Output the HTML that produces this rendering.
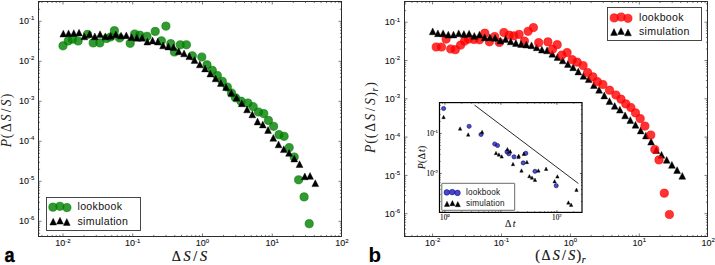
<!DOCTYPE html>
<html><head><meta charset="utf-8"><style>
html,body{margin:0;padding:0;background:#fff;}
svg{display:block;}
</style></head><body>
<svg width="715" height="265" viewBox="0 0 715 265">
<rect width="715" height="265" fill="#fff"/>
<rect x="38.5" y="1.5" width="303" height="235" fill="white" stroke="none"/>
<path d="M42 236.5V234.9M42 1.5V3.1M47.53 236.5V234.9M47.53 1.5V3.1M52.2 236.5V234.9M52.2 1.5V3.1M56.24 236.5V234.9M56.24 1.5V3.1M59.81 236.5V234.9M59.81 1.5V3.1M63 236.5V233.5M63 1.5V4.5M84 236.5V234.9M84 1.5V3.1M96.28 236.5V234.9M96.28 1.5V3.1M104.99 236.5V234.9M104.99 1.5V3.1M111.75 236.5V234.9M111.75 1.5V3.1M117.28 236.5V234.9M117.28 1.5V3.1M121.95 236.5V234.9M121.95 1.5V3.1M125.99 236.5V234.9M125.99 1.5V3.1M129.56 236.5V234.9M129.56 1.5V3.1M132.75 236.5V233.5M132.75 1.5V4.5M153.75 236.5V234.9M153.75 1.5V3.1M166.03 236.5V234.9M166.03 1.5V3.1M174.74 236.5V234.9M174.74 1.5V3.1M181.5 236.5V234.9M181.5 1.5V3.1M187.03 236.5V234.9M187.03 1.5V3.1M191.7 236.5V234.9M191.7 1.5V3.1M195.74 236.5V234.9M195.74 1.5V3.1M199.31 236.5V234.9M199.31 1.5V3.1M202.5 236.5V233.5M202.5 1.5V4.5M223.5 236.5V234.9M223.5 1.5V3.1M235.78 236.5V234.9M235.78 1.5V3.1M244.49 236.5V234.9M244.49 1.5V3.1M251.25 236.5V234.9M251.25 1.5V3.1M256.78 236.5V234.9M256.78 1.5V3.1M261.45 236.5V234.9M261.45 1.5V3.1M265.49 236.5V234.9M265.49 1.5V3.1M269.06 236.5V234.9M269.06 1.5V3.1M272.25 236.5V233.5M272.25 1.5V4.5M293.25 236.5V234.9M293.25 1.5V3.1M305.53 236.5V234.9M305.53 1.5V3.1M314.24 236.5V234.9M314.24 1.5V3.1M321 236.5V234.9M321 1.5V3.1M326.53 236.5V234.9M326.53 1.5V3.1M331.2 236.5V234.9M331.2 1.5V3.1M335.24 236.5V234.9M335.24 1.5V3.1M338.81 236.5V234.9M338.81 1.5V3.1M38.5 233.34H40.1M341.5 233.34H339.9M38.5 230.17H40.1M341.5 230.17H339.9M38.5 227.5H40.1M341.5 227.5H339.9M38.5 225.18H40.1M341.5 225.18H339.9M38.5 223.13H40.1M341.5 223.13H339.9M38.5 221.3H41.5M341.5 221.3H338.5M38.5 209.26H40.1M341.5 209.26H339.9M38.5 202.22H40.1M341.5 202.22H339.9M38.5 197.22H40.1M341.5 197.22H339.9M38.5 193.34H40.1M341.5 193.34H339.9M38.5 190.17H40.1M341.5 190.17H339.9M38.5 187.5H40.1M341.5 187.5H339.9M38.5 185.18H40.1M341.5 185.18H339.9M38.5 183.13H40.1M341.5 183.13H339.9M38.5 181.3H41.5M341.5 181.3H338.5M38.5 169.26H40.1M341.5 169.26H339.9M38.5 162.22H40.1M341.5 162.22H339.9M38.5 157.22H40.1M341.5 157.22H339.9M38.5 153.34H40.1M341.5 153.34H339.9M38.5 150.17H40.1M341.5 150.17H339.9M38.5 147.5H40.1M341.5 147.5H339.9M38.5 145.18H40.1M341.5 145.18H339.9M38.5 143.13H40.1M341.5 143.13H339.9M38.5 141.3H41.5M341.5 141.3H338.5M38.5 129.26H40.1M341.5 129.26H339.9M38.5 122.22H40.1M341.5 122.22H339.9M38.5 117.22H40.1M341.5 117.22H339.9M38.5 113.34H40.1M341.5 113.34H339.9M38.5 110.17H40.1M341.5 110.17H339.9M38.5 107.5H40.1M341.5 107.5H339.9M38.5 105.18H40.1M341.5 105.18H339.9M38.5 103.13H40.1M341.5 103.13H339.9M38.5 101.3H41.5M341.5 101.3H338.5M38.5 89.26H40.1M341.5 89.26H339.9M38.5 82.22H40.1M341.5 82.22H339.9M38.5 77.22H40.1M341.5 77.22H339.9M38.5 73.34H40.1M341.5 73.34H339.9M38.5 70.17H40.1M341.5 70.17H339.9M38.5 67.5H40.1M341.5 67.5H339.9M38.5 65.18H40.1M341.5 65.18H339.9M38.5 63.13H40.1M341.5 63.13H339.9M38.5 61.3H41.5M341.5 61.3H338.5M38.5 49.26H40.1M341.5 49.26H339.9M38.5 42.22H40.1M341.5 42.22H339.9M38.5 37.22H40.1M341.5 37.22H339.9M38.5 33.34H40.1M341.5 33.34H339.9M38.5 30.17H40.1M341.5 30.17H339.9M38.5 27.5H40.1M341.5 27.5H339.9M38.5 25.18H40.1M341.5 25.18H339.9M38.5 23.13H40.1M341.5 23.13H339.9M38.5 21.3H41.5M341.5 21.3H338.5M38.5 9.26H40.1M341.5 9.26H339.9M38.5 2.22H40.1M341.5 2.22H339.9" stroke="#222" stroke-width="0.6" fill="none"/>
<circle cx="63" cy="45.8" r="4.1" fill="#008000" fill-opacity="0.8" stroke="#008000" stroke-opacity="0.8" stroke-width="0.8"/>
<circle cx="68.2" cy="41" r="4.1" fill="#008000" fill-opacity="0.8" stroke="#008000" stroke-opacity="0.8" stroke-width="0.8"/>
<circle cx="72.5" cy="39.2" r="4.1" fill="#008000" fill-opacity="0.8" stroke="#008000" stroke-opacity="0.8" stroke-width="0.8"/>
<circle cx="78.1" cy="41" r="4.1" fill="#008000" fill-opacity="0.8" stroke="#008000" stroke-opacity="0.8" stroke-width="0.8"/>
<circle cx="87.5" cy="34.4" r="4.1" fill="#008000" fill-opacity="0.8" stroke="#008000" stroke-opacity="0.8" stroke-width="0.8"/>
<circle cx="93.2" cy="42.9" r="4.1" fill="#008000" fill-opacity="0.8" stroke="#008000" stroke-opacity="0.8" stroke-width="0.8"/>
<circle cx="99.8" cy="42.9" r="4.1" fill="#008000" fill-opacity="0.8" stroke="#008000" stroke-opacity="0.8" stroke-width="0.8"/>
<circle cx="106.5" cy="38.5" r="4.1" fill="#008000" fill-opacity="0.8" stroke="#008000" stroke-opacity="0.8" stroke-width="0.8"/>
<circle cx="110.5" cy="37" r="4.1" fill="#008000" fill-opacity="0.8" stroke="#008000" stroke-opacity="0.8" stroke-width="0.8"/>
<circle cx="114.4" cy="30.7" r="4.1" fill="#008000" fill-opacity="0.8" stroke="#008000" stroke-opacity="0.8" stroke-width="0.8"/>
<circle cx="119.6" cy="38" r="4.1" fill="#008000" fill-opacity="0.8" stroke="#008000" stroke-opacity="0.8" stroke-width="0.8"/>
<circle cx="130.2" cy="43.3" r="4.1" fill="#008000" fill-opacity="0.8" stroke="#008000" stroke-opacity="0.8" stroke-width="0.8"/>
<circle cx="134.7" cy="34" r="4.1" fill="#008000" fill-opacity="0.8" stroke="#008000" stroke-opacity="0.8" stroke-width="0.8"/>
<circle cx="139.8" cy="35.2" r="4.1" fill="#008000" fill-opacity="0.8" stroke="#008000" stroke-opacity="0.8" stroke-width="0.8"/>
<circle cx="147" cy="36.3" r="4.1" fill="#008000" fill-opacity="0.8" stroke="#008000" stroke-opacity="0.8" stroke-width="0.8"/>
<circle cx="155.2" cy="31.4" r="4.1" fill="#008000" fill-opacity="0.8" stroke="#008000" stroke-opacity="0.8" stroke-width="0.8"/>
<circle cx="161.4" cy="40.8" r="4.1" fill="#008000" fill-opacity="0.8" stroke="#008000" stroke-opacity="0.8" stroke-width="0.8"/>
<circle cx="165.9" cy="26.1" r="4.1" fill="#008000" fill-opacity="0.8" stroke="#008000" stroke-opacity="0.8" stroke-width="0.8"/>
<circle cx="170.8" cy="43.7" r="4.1" fill="#008000" fill-opacity="0.8" stroke="#008000" stroke-opacity="0.8" stroke-width="0.8"/>
<circle cx="174.4" cy="52" r="4.1" fill="#008000" fill-opacity="0.8" stroke="#008000" stroke-opacity="0.8" stroke-width="0.8"/>
<circle cx="180.3" cy="44.8" r="4.1" fill="#008000" fill-opacity="0.8" stroke="#008000" stroke-opacity="0.8" stroke-width="0.8"/>
<circle cx="186.4" cy="44.8" r="4.1" fill="#008000" fill-opacity="0.8" stroke="#008000" stroke-opacity="0.8" stroke-width="0.8"/>
<circle cx="192.3" cy="55.8" r="4.1" fill="#008000" fill-opacity="0.8" stroke="#008000" stroke-opacity="0.8" stroke-width="0.8"/>
<circle cx="201.8" cy="57" r="4.1" fill="#008000" fill-opacity="0.8" stroke="#008000" stroke-opacity="0.8" stroke-width="0.8"/>
<circle cx="207" cy="64.8" r="4.1" fill="#008000" fill-opacity="0.8" stroke="#008000" stroke-opacity="0.8" stroke-width="0.8"/>
<circle cx="212.3" cy="70.3" r="4.1" fill="#008000" fill-opacity="0.8" stroke="#008000" stroke-opacity="0.8" stroke-width="0.8"/>
<circle cx="217.3" cy="75.5" r="4.1" fill="#008000" fill-opacity="0.8" stroke="#008000" stroke-opacity="0.8" stroke-width="0.8"/>
<circle cx="222.3" cy="81.3" r="4.1" fill="#008000" fill-opacity="0.8" stroke="#008000" stroke-opacity="0.8" stroke-width="0.8"/>
<circle cx="227.3" cy="87" r="4.1" fill="#008000" fill-opacity="0.8" stroke="#008000" stroke-opacity="0.8" stroke-width="0.8"/>
<circle cx="231.5" cy="93" r="4.1" fill="#008000" fill-opacity="0.8" stroke="#008000" stroke-opacity="0.8" stroke-width="0.8"/>
<circle cx="235.5" cy="97.8" r="4.1" fill="#008000" fill-opacity="0.8" stroke="#008000" stroke-opacity="0.8" stroke-width="0.8"/>
<circle cx="241" cy="101.2" r="4.1" fill="#008000" fill-opacity="0.8" stroke="#008000" stroke-opacity="0.8" stroke-width="0.8"/>
<circle cx="247.9" cy="103" r="4.1" fill="#008000" fill-opacity="0.8" stroke="#008000" stroke-opacity="0.8" stroke-width="0.8"/>
<circle cx="253.2" cy="106.7" r="4.1" fill="#008000" fill-opacity="0.8" stroke="#008000" stroke-opacity="0.8" stroke-width="0.8"/>
<circle cx="258.5" cy="112" r="4.1" fill="#008000" fill-opacity="0.8" stroke="#008000" stroke-opacity="0.8" stroke-width="0.8"/>
<circle cx="263.8" cy="113.6" r="4.1" fill="#008000" fill-opacity="0.8" stroke="#008000" stroke-opacity="0.8" stroke-width="0.8"/>
<circle cx="268.4" cy="120.4" r="4.1" fill="#008000" fill-opacity="0.8" stroke="#008000" stroke-opacity="0.8" stroke-width="0.8"/>
<circle cx="273.6" cy="126.3" r="4.1" fill="#008000" fill-opacity="0.8" stroke="#008000" stroke-opacity="0.8" stroke-width="0.8"/>
<circle cx="279" cy="134.7" r="4.1" fill="#008000" fill-opacity="0.8" stroke="#008000" stroke-opacity="0.8" stroke-width="0.8"/>
<circle cx="284.1" cy="136.3" r="4.1" fill="#008000" fill-opacity="0.8" stroke="#008000" stroke-opacity="0.8" stroke-width="0.8"/>
<circle cx="289.2" cy="147.6" r="4.1" fill="#008000" fill-opacity="0.8" stroke="#008000" stroke-opacity="0.8" stroke-width="0.8"/>
<circle cx="294.2" cy="157" r="4.1" fill="#008000" fill-opacity="0.8" stroke="#008000" stroke-opacity="0.8" stroke-width="0.8"/>
<circle cx="298.6" cy="179.8" r="4.1" fill="#008000" fill-opacity="0.8" stroke="#008000" stroke-opacity="0.8" stroke-width="0.8"/>
<circle cx="304.1" cy="196.9" r="4.1" fill="#008000" fill-opacity="0.8" stroke="#008000" stroke-opacity="0.8" stroke-width="0.8"/>
<circle cx="309.2" cy="223.7" r="4.1" fill="#008000" fill-opacity="0.8" stroke="#008000" stroke-opacity="0.8" stroke-width="0.8"/>
<path d="M63.3 30.2L66.7 37L59.9 37Z" fill="#000" stroke="#000" stroke-width="0.4"/>
<path d="M68.55 29.9L71.95 36.7L65.15 36.7Z" fill="#000" stroke="#000" stroke-width="0.4"/>
<path d="M73.8 29.7L77.2 36.5L70.4 36.5Z" fill="#000" stroke="#000" stroke-width="0.4"/>
<path d="M79.05 29.2L82.45 36L75.65 36Z" fill="#000" stroke="#000" stroke-width="0.4"/>
<path d="M84.3 33L87.7 39.8L80.9 39.8Z" fill="#000" stroke="#000" stroke-width="0.4"/>
<path d="M89.55 30.8L92.95 37.6L86.15 37.6Z" fill="#000" stroke="#000" stroke-width="0.4"/>
<path d="M94.8 33L98.2 39.8L91.4 39.8Z" fill="#000" stroke="#000" stroke-width="0.4"/>
<path d="M100.05 30.8L103.45 37.6L96.65 37.6Z" fill="#000" stroke="#000" stroke-width="0.4"/>
<path d="M105.3 32.9L108.7 39.7L101.9 39.7Z" fill="#000" stroke="#000" stroke-width="0.4"/>
<path d="M110.55 32.5L113.95 39.3L107.15 39.3Z" fill="#000" stroke="#000" stroke-width="0.4"/>
<path d="M115.8 31L119.2 37.8L112.4 37.8Z" fill="#000" stroke="#000" stroke-width="0.4"/>
<path d="M121.05 32.2L124.45 39L117.65 39Z" fill="#000" stroke="#000" stroke-width="0.4"/>
<path d="M126.3 31.9L129.7 38.7L122.9 38.7Z" fill="#000" stroke="#000" stroke-width="0.4"/>
<path d="M131.55 33.7L134.95 40.5L128.15 40.5Z" fill="#000" stroke="#000" stroke-width="0.4"/>
<path d="M136.8 34.4L140.2 41.2L133.4 41.2Z" fill="#000" stroke="#000" stroke-width="0.4"/>
<path d="M142.05 34.4L145.45 41.2L138.65 41.2Z" fill="#000" stroke="#000" stroke-width="0.4"/>
<path d="M147.3 38.2L150.7 45L143.9 45Z" fill="#000" stroke="#000" stroke-width="0.4"/>
<path d="M152.55 37.1L155.95 43.9L149.15 43.9Z" fill="#000" stroke="#000" stroke-width="0.4"/>
<path d="M157.8 38.2L161.2 45L154.4 45Z" fill="#000" stroke="#000" stroke-width="0.4"/>
<path d="M163.05 42L166.45 48.8L159.65 48.8Z" fill="#000" stroke="#000" stroke-width="0.4"/>
<path d="M168.3 43.1L171.7 49.9L164.9 49.9Z" fill="#000" stroke="#000" stroke-width="0.4"/>
<path d="M173.55 43.7L176.95 50.5L170.15 50.5Z" fill="#000" stroke="#000" stroke-width="0.4"/>
<path d="M178.8 48L182.2 54.8L175.4 54.8Z" fill="#000" stroke="#000" stroke-width="0.4"/>
<path d="M184.05 50L187.45 56.8L180.65 56.8Z" fill="#000" stroke="#000" stroke-width="0.4"/>
<path d="M189.3 52.8L192.7 59.6L185.9 59.6Z" fill="#000" stroke="#000" stroke-width="0.4"/>
<path d="M194.55 56.6L197.95 63.4L191.15 63.4Z" fill="#000" stroke="#000" stroke-width="0.4"/>
<path d="M199.8 61L203.2 67.8L196.4 67.8Z" fill="#000" stroke="#000" stroke-width="0.4"/>
<path d="M205.05 65.1L208.45 71.9L201.65 71.9Z" fill="#000" stroke="#000" stroke-width="0.4"/>
<path d="M210.3 70.2L213.7 77L206.9 77Z" fill="#000" stroke="#000" stroke-width="0.4"/>
<path d="M215.55 75L218.95 81.8L212.15 81.8Z" fill="#000" stroke="#000" stroke-width="0.4"/>
<path d="M220.8 79.6L224.2 86.4L217.4 86.4Z" fill="#000" stroke="#000" stroke-width="0.4"/>
<path d="M226.05 83.8L229.45 90.6L222.65 90.6Z" fill="#000" stroke="#000" stroke-width="0.4"/>
<path d="M231.3 89.4L234.7 96.2L227.9 96.2Z" fill="#000" stroke="#000" stroke-width="0.4"/>
<path d="M236.55 94.3L239.95 101.1L233.15 101.1Z" fill="#000" stroke="#000" stroke-width="0.4"/>
<path d="M241.8 99.9L245.2 106.7L238.4 106.7Z" fill="#000" stroke="#000" stroke-width="0.4"/>
<path d="M247.05 106L250.45 112.8L243.65 112.8Z" fill="#000" stroke="#000" stroke-width="0.4"/>
<path d="M252.3 111L255.7 117.8L248.9 117.8Z" fill="#000" stroke="#000" stroke-width="0.4"/>
<path d="M257.55 118.1L260.95 124.9L254.15 124.9Z" fill="#000" stroke="#000" stroke-width="0.4"/>
<path d="M262.8 121.1L266.2 127.9L259.4 127.9Z" fill="#000" stroke="#000" stroke-width="0.4"/>
<path d="M268.05 126.6L271.45 133.4L264.65 133.4Z" fill="#000" stroke="#000" stroke-width="0.4"/>
<path d="M273.3 134.5L276.7 141.3L269.9 141.3Z" fill="#000" stroke="#000" stroke-width="0.4"/>
<path d="M278.55 141L281.95 147.8L275.15 147.8Z" fill="#000" stroke="#000" stroke-width="0.4"/>
<path d="M283.8 145.8L287.2 152.6L280.4 152.6Z" fill="#000" stroke="#000" stroke-width="0.4"/>
<path d="M289.05 149.5L292.45 156.3L285.65 156.3Z" fill="#000" stroke="#000" stroke-width="0.4"/>
<path d="M294.3 155.2L297.7 162L290.9 162Z" fill="#000" stroke="#000" stroke-width="0.4"/>
<path d="M299.55 160.7L302.95 167.5L296.15 167.5Z" fill="#000" stroke="#000" stroke-width="0.4"/>
<path d="M304.8 173L308.2 179.8L301.4 179.8Z" fill="#000" stroke="#000" stroke-width="0.4"/>
<path d="M310.05 172.5L313.45 179.3L306.65 179.3Z" fill="#000" stroke="#000" stroke-width="0.4"/>
<path d="M315.3 179.8L318.7 186.6L311.9 186.6Z" fill="#000" stroke="#000" stroke-width="0.4"/>
<rect x="46.5" y="197.5" width="94" height="33" fill="white" stroke="#333" stroke-width="0.9"/>
<circle cx="52.9" cy="207.2" r="4.1" fill="#008000" fill-opacity="0.8" stroke="#008000" stroke-opacity="0.8" stroke-width="0.8"/>
<circle cx="59.9" cy="206.3" r="4.1" fill="#008000" fill-opacity="0.8" stroke="#008000" stroke-opacity="0.8" stroke-width="0.8"/>
<circle cx="66.9" cy="207.6" r="4.1" fill="#008000" fill-opacity="0.8" stroke="#008000" stroke-opacity="0.8" stroke-width="0.8"/>
<path d="M53.2 218.2L56.6 225L49.8 225Z" fill="#000" stroke="#000" stroke-width="0.4"/>
<path d="M60 217.3L63.4 224.1L56.6 224.1Z" fill="#000" stroke="#000" stroke-width="0.4"/>
<path d="M66.8 218.6L70.2 225.4L63.4 225.4Z" fill="#000" stroke="#000" stroke-width="0.4"/>
<text x="77.5" y="210.2" font-family='"Liberation Sans", sans-serif' font-size="10.6" letter-spacing="0.3" fill="#111">lookbook</text>
<text x="77.5" y="224.6" font-family='"Liberation Sans", sans-serif' font-size="10.6" letter-spacing="0.3" fill="#111">simulation</text>
<rect x="38.5" y="1.5" width="303" height="235" fill="none" stroke="#222" stroke-width="0.95"/>
<text x="63" y="246.2" font-family='"Liberation Sans", sans-serif' font-size="9" fill="#111" stroke="#111" stroke-width="0.1" text-anchor="middle">10<tspan dy="-3.6" font-size="6">-2</tspan></text>
<text x="132.75" y="246.2" font-family='"Liberation Sans", sans-serif' font-size="9" fill="#111" stroke="#111" stroke-width="0.1" text-anchor="middle">10<tspan dy="-3.6" font-size="6">-1</tspan></text>
<text x="202.5" y="246.2" font-family='"Liberation Sans", sans-serif' font-size="9" fill="#111" stroke="#111" stroke-width="0.1" text-anchor="middle">10<tspan dy="-3.6" font-size="6">0</tspan></text>
<text x="272.25" y="246.2" font-family='"Liberation Sans", sans-serif' font-size="9" fill="#111" stroke="#111" stroke-width="0.1" text-anchor="middle">10<tspan dy="-3.6" font-size="6">1</tspan></text>
<text x="342" y="246.2" font-family='"Liberation Sans", sans-serif' font-size="9" fill="#111" stroke="#111" stroke-width="0.1" text-anchor="middle">10<tspan dy="-3.6" font-size="6">2</tspan></text>
<text x="34.3" y="223.9" font-family='"Liberation Sans", sans-serif' font-size="9" fill="#111" stroke="#111" stroke-width="0.1" text-anchor="end">10<tspan dy="-3.6" font-size="6">-6</tspan></text>
<text x="34.3" y="183.9" font-family='"Liberation Sans", sans-serif' font-size="9" fill="#111" stroke="#111" stroke-width="0.1" text-anchor="end">10<tspan dy="-3.6" font-size="6">-5</tspan></text>
<text x="34.3" y="143.9" font-family='"Liberation Sans", sans-serif' font-size="9" fill="#111" stroke="#111" stroke-width="0.1" text-anchor="end">10<tspan dy="-3.6" font-size="6">-4</tspan></text>
<text x="34.3" y="103.9" font-family='"Liberation Sans", sans-serif' font-size="9" fill="#111" stroke="#111" stroke-width="0.1" text-anchor="end">10<tspan dy="-3.6" font-size="6">-3</tspan></text>
<text x="34.3" y="63.9" font-family='"Liberation Sans", sans-serif' font-size="9" fill="#111" stroke="#111" stroke-width="0.1" text-anchor="end">10<tspan dy="-3.6" font-size="6">-2</tspan></text>
<text x="34.3" y="23.9" font-family='"Liberation Sans", sans-serif' font-size="9" fill="#111" stroke="#111" stroke-width="0.1" text-anchor="end">10<tspan dy="-3.6" font-size="6">-1</tspan></text>
<rect x="404.5" y="1.5" width="303" height="235" fill="white" stroke="none"/>
<path d="M405.18 236.5V234.9M405.18 1.5V3.1M411.86 236.5V234.9M411.86 1.5V3.1M417.31 236.5V234.9M417.31 1.5V3.1M421.93 236.5V234.9M421.93 1.5V3.1M425.92 236.5V234.9M425.92 1.5V3.1M429.45 236.5V234.9M429.45 1.5V3.1M432.6 236.5V233.5M432.6 1.5V4.5M453.34 236.5V234.9M453.34 1.5V3.1M465.47 236.5V234.9M465.47 1.5V3.1M474.08 236.5V234.9M474.08 1.5V3.1M480.76 236.5V234.9M480.76 1.5V3.1M486.21 236.5V234.9M486.21 1.5V3.1M490.83 236.5V234.9M490.83 1.5V3.1M494.82 236.5V234.9M494.82 1.5V3.1M498.35 236.5V234.9M498.35 1.5V3.1M501.5 236.5V233.5M501.5 1.5V4.5M522.24 236.5V234.9M522.24 1.5V3.1M534.37 236.5V234.9M534.37 1.5V3.1M542.98 236.5V234.9M542.98 1.5V3.1M549.66 236.5V234.9M549.66 1.5V3.1M555.11 236.5V234.9M555.11 1.5V3.1M559.73 236.5V234.9M559.73 1.5V3.1M563.72 236.5V234.9M563.72 1.5V3.1M567.25 236.5V234.9M567.25 1.5V3.1M570.4 236.5V233.5M570.4 1.5V4.5M591.14 236.5V234.9M591.14 1.5V3.1M603.27 236.5V234.9M603.27 1.5V3.1M611.88 236.5V234.9M611.88 1.5V3.1M618.56 236.5V234.9M618.56 1.5V3.1M624.01 236.5V234.9M624.01 1.5V3.1M628.63 236.5V234.9M628.63 1.5V3.1M632.62 236.5V234.9M632.62 1.5V3.1M636.15 236.5V234.9M636.15 1.5V3.1M639.3 236.5V233.5M639.3 1.5V4.5M660.04 236.5V234.9M660.04 1.5V3.1M672.17 236.5V234.9M672.17 1.5V3.1M680.78 236.5V234.9M680.78 1.5V3.1M687.46 236.5V234.9M687.46 1.5V3.1M692.91 236.5V234.9M692.91 1.5V3.1M697.53 236.5V234.9M697.53 1.5V3.1M701.52 236.5V234.9M701.52 1.5V3.1M705.05 236.5V234.9M705.05 1.5V3.1M404.5 233.73H406.1M707.5 233.73H705.9M404.5 228.94H406.1M707.5 228.94H705.9M404.5 225.23H406.1M707.5 225.23H705.9M404.5 222.2H406.1M707.5 222.2H705.9M404.5 219.63H406.1M707.5 219.63H705.9M404.5 217.41H406.1M707.5 217.41H705.9M404.5 215.45H406.1M707.5 215.45H705.9M404.5 213.7H407.5M707.5 213.7H704.5M404.5 202.17H406.1M707.5 202.17H705.9M404.5 195.43H406.1M707.5 195.43H705.9M404.5 190.64H406.1M707.5 190.64H705.9M404.5 186.93H406.1M707.5 186.93H705.9M404.5 183.9H406.1M707.5 183.9H705.9M404.5 181.33H406.1M707.5 181.33H705.9M404.5 179.11H406.1M707.5 179.11H705.9M404.5 177.15H406.1M707.5 177.15H705.9M404.5 175.4H407.5M707.5 175.4H704.5M404.5 163.87H406.1M707.5 163.87H705.9M404.5 157.13H406.1M707.5 157.13H705.9M404.5 152.34H406.1M707.5 152.34H705.9M404.5 148.63H406.1M707.5 148.63H705.9M404.5 145.6H406.1M707.5 145.6H705.9M404.5 143.03H406.1M707.5 143.03H705.9M404.5 140.81H406.1M707.5 140.81H705.9M404.5 138.85H406.1M707.5 138.85H705.9M404.5 137.1H407.5M707.5 137.1H704.5M404.5 125.57H406.1M707.5 125.57H705.9M404.5 118.83H406.1M707.5 118.83H705.9M404.5 114.04H406.1M707.5 114.04H705.9M404.5 110.33H406.1M707.5 110.33H705.9M404.5 107.3H406.1M707.5 107.3H705.9M404.5 104.73H406.1M707.5 104.73H705.9M404.5 102.51H406.1M707.5 102.51H705.9M404.5 100.55H406.1M707.5 100.55H705.9M404.5 98.8H407.5M707.5 98.8H704.5M404.5 87.27H406.1M707.5 87.27H705.9M404.5 80.53H406.1M707.5 80.53H705.9M404.5 75.74H406.1M707.5 75.74H705.9M404.5 72.03H406.1M707.5 72.03H705.9M404.5 69H406.1M707.5 69H705.9M404.5 66.43H406.1M707.5 66.43H705.9M404.5 64.21H406.1M707.5 64.21H705.9M404.5 62.25H406.1M707.5 62.25H705.9M404.5 60.5H407.5M707.5 60.5H704.5M404.5 48.97H406.1M707.5 48.97H705.9M404.5 42.23H406.1M707.5 42.23H705.9M404.5 37.44H406.1M707.5 37.44H705.9M404.5 33.73H406.1M707.5 33.73H705.9M404.5 30.7H406.1M707.5 30.7H705.9M404.5 28.13H406.1M707.5 28.13H705.9M404.5 25.91H406.1M707.5 25.91H705.9M404.5 23.95H406.1M707.5 23.95H705.9M404.5 22.2H407.5M707.5 22.2H704.5M404.5 10.67H406.1M707.5 10.67H705.9M404.5 3.93H406.1M707.5 3.93H705.9" stroke="#222" stroke-width="0.6" fill="none"/>
<circle cx="436.2" cy="47" r="4.1" fill="#ff0000" fill-opacity="0.8" stroke="#ff0000" stroke-opacity="0.8" stroke-width="0.8"/>
<circle cx="441.5" cy="47" r="4.1" fill="#ff0000" fill-opacity="0.8" stroke="#ff0000" stroke-opacity="0.8" stroke-width="0.8"/>
<circle cx="446.1" cy="39.1" r="4.1" fill="#ff0000" fill-opacity="0.8" stroke="#ff0000" stroke-opacity="0.8" stroke-width="0.8"/>
<circle cx="450.7" cy="49" r="4.1" fill="#ff0000" fill-opacity="0.8" stroke="#ff0000" stroke-opacity="0.8" stroke-width="0.8"/>
<circle cx="455.3" cy="49.7" r="4.1" fill="#ff0000" fill-opacity="0.8" stroke="#ff0000" stroke-opacity="0.8" stroke-width="0.8"/>
<circle cx="460.6" cy="45.1" r="4.1" fill="#ff0000" fill-opacity="0.8" stroke="#ff0000" stroke-opacity="0.8" stroke-width="0.8"/>
<circle cx="464.6" cy="41.1" r="4.1" fill="#ff0000" fill-opacity="0.8" stroke="#ff0000" stroke-opacity="0.8" stroke-width="0.8"/>
<circle cx="468.5" cy="39.1" r="4.1" fill="#ff0000" fill-opacity="0.8" stroke="#ff0000" stroke-opacity="0.8" stroke-width="0.8"/>
<circle cx="474" cy="39.5" r="4.1" fill="#ff0000" fill-opacity="0.8" stroke="#ff0000" stroke-opacity="0.8" stroke-width="0.8"/>
<circle cx="479.5" cy="39.8" r="4.1" fill="#ff0000" fill-opacity="0.8" stroke="#ff0000" stroke-opacity="0.8" stroke-width="0.8"/>
<circle cx="484.8" cy="33.2" r="4.1" fill="#ff0000" fill-opacity="0.8" stroke="#ff0000" stroke-opacity="0.8" stroke-width="0.8"/>
<circle cx="489.4" cy="41.8" r="4.1" fill="#ff0000" fill-opacity="0.8" stroke="#ff0000" stroke-opacity="0.8" stroke-width="0.8"/>
<circle cx="494.7" cy="36.5" r="4.1" fill="#ff0000" fill-opacity="0.8" stroke="#ff0000" stroke-opacity="0.8" stroke-width="0.8"/>
<circle cx="499.3" cy="42.4" r="4.1" fill="#ff0000" fill-opacity="0.8" stroke="#ff0000" stroke-opacity="0.8" stroke-width="0.8"/>
<circle cx="503.9" cy="32.5" r="4.1" fill="#ff0000" fill-opacity="0.8" stroke="#ff0000" stroke-opacity="0.8" stroke-width="0.8"/>
<circle cx="509.2" cy="35.2" r="4.1" fill="#ff0000" fill-opacity="0.8" stroke="#ff0000" stroke-opacity="0.8" stroke-width="0.8"/>
<circle cx="513.8" cy="35.8" r="4.1" fill="#ff0000" fill-opacity="0.8" stroke="#ff0000" stroke-opacity="0.8" stroke-width="0.8"/>
<circle cx="519.1" cy="34.4" r="4.1" fill="#ff0000" fill-opacity="0.8" stroke="#ff0000" stroke-opacity="0.8" stroke-width="0.8"/>
<circle cx="524.4" cy="41.1" r="4.1" fill="#ff0000" fill-opacity="0.8" stroke="#ff0000" stroke-opacity="0.8" stroke-width="0.8"/>
<circle cx="528.1" cy="31.3" r="4.1" fill="#ff0000" fill-opacity="0.8" stroke="#ff0000" stroke-opacity="0.8" stroke-width="0.8"/>
<path d="M432.7 27.9L436.1 34.7L429.3 34.7Z" fill="#000" stroke="#000" stroke-width="0.4"/>
<path d="M437.9 29.9L441.3 36.7L434.5 36.7Z" fill="#000" stroke="#000" stroke-width="0.4"/>
<path d="M443.1 29.9L446.5 36.7L439.7 36.7Z" fill="#000" stroke="#000" stroke-width="0.4"/>
<path d="M448.3 31.2L451.7 38L444.9 38Z" fill="#000" stroke="#000" stroke-width="0.4"/>
<path d="M453.5 31.2L456.9 38L450.1 38Z" fill="#000" stroke="#000" stroke-width="0.4"/>
<path d="M458.7 29.9L462.1 36.7L455.3 36.7Z" fill="#000" stroke="#000" stroke-width="0.4"/>
<path d="M463.9 30.6L467.3 37.4L460.5 37.4Z" fill="#000" stroke="#000" stroke-width="0.4"/>
<path d="M469.1 30.3L472.5 37.1L465.7 37.1Z" fill="#000" stroke="#000" stroke-width="0.4"/>
<path d="M474.3 32.5L477.7 39.3L470.9 39.3Z" fill="#000" stroke="#000" stroke-width="0.4"/>
<path d="M479.5 31.2L482.9 38L476.1 38Z" fill="#000" stroke="#000" stroke-width="0.4"/>
<path d="M484.7 33.9L488.1 40.7L481.3 40.7Z" fill="#000" stroke="#000" stroke-width="0.4"/>
<path d="M489.9 33.9L493.3 40.7L486.5 40.7Z" fill="#000" stroke="#000" stroke-width="0.4"/>
<path d="M495.1 34.5L498.5 41.3L491.7 41.3Z" fill="#000" stroke="#000" stroke-width="0.4"/>
<path d="M500.3 37.2L503.7 44L496.9 44Z" fill="#000" stroke="#000" stroke-width="0.4"/>
<path d="M505.5 35.8L508.9 42.6L502.1 42.6Z" fill="#000" stroke="#000" stroke-width="0.4"/>
<path d="M510.7 38L514.1 44.8L507.3 44.8Z" fill="#000" stroke="#000" stroke-width="0.4"/>
<path d="M515.9 39.6L519.3 46.4L512.5 46.4Z" fill="#000" stroke="#000" stroke-width="0.4"/>
<path d="M521.1 40.6L524.5 47.4L517.7 47.4Z" fill="#000" stroke="#000" stroke-width="0.4"/>
<path d="M526.3 41.2L529.7 48L522.9 48Z" fill="#000" stroke="#000" stroke-width="0.4"/>
<path d="M531.5 41.9L534.9 48.7L528.1 48.7Z" fill="#000" stroke="#000" stroke-width="0.4"/>
<path d="M536.7 43.9L540.1 50.7L533.3 50.7Z" fill="#000" stroke="#000" stroke-width="0.4"/>
<path d="M541.9 46.2L545.3 53L538.5 53Z" fill="#000" stroke="#000" stroke-width="0.4"/>
<path d="M547.1 47L550.5 53.8L543.7 53.8Z" fill="#000" stroke="#000" stroke-width="0.4"/>
<path d="M552.3 50.4L555.7 57.2L548.9 57.2Z" fill="#000" stroke="#000" stroke-width="0.4"/>
<path d="M557.5 53.6L560.9 60.4L554.1 60.4Z" fill="#000" stroke="#000" stroke-width="0.4"/>
<path d="M562.7 57L566.1 63.8L559.3 63.8Z" fill="#000" stroke="#000" stroke-width="0.4"/>
<path d="M567.9 60.6L571.3 67.4L564.5 67.4Z" fill="#000" stroke="#000" stroke-width="0.4"/>
<path d="M573.1 63.9L576.5 70.7L569.7 70.7Z" fill="#000" stroke="#000" stroke-width="0.4"/>
<path d="M578.3 68.1L581.7 74.9L574.9 74.9Z" fill="#000" stroke="#000" stroke-width="0.4"/>
<path d="M583.5 72.4L586.9 79.2L580.1 79.2Z" fill="#000" stroke="#000" stroke-width="0.4"/>
<path d="M588.7 75.8L592.1 82.6L585.3 82.6Z" fill="#000" stroke="#000" stroke-width="0.4"/>
<path d="M593.9 81.7L597.3 88.5L590.5 88.5Z" fill="#000" stroke="#000" stroke-width="0.4"/>
<path d="M599.1 86.4L602.5 93.2L595.7 93.2Z" fill="#000" stroke="#000" stroke-width="0.4"/>
<path d="M604.3 92.1L607.7 98.9L600.9 98.9Z" fill="#000" stroke="#000" stroke-width="0.4"/>
<path d="M609.5 97.7L612.9 104.5L606.1 104.5Z" fill="#000" stroke="#000" stroke-width="0.4"/>
<path d="M614.7 102.5L618.1 109.3L611.3 109.3Z" fill="#000" stroke="#000" stroke-width="0.4"/>
<path d="M619.9 106.3L623.3 113.1L616.5 113.1Z" fill="#000" stroke="#000" stroke-width="0.4"/>
<path d="M625.1 112L628.5 118.8L621.7 118.8Z" fill="#000" stroke="#000" stroke-width="0.4"/>
<path d="M630.3 116.7L633.7 123.5L626.9 123.5Z" fill="#000" stroke="#000" stroke-width="0.4"/>
<path d="M635.5 121.4L638.9 128.2L632.1 128.2Z" fill="#000" stroke="#000" stroke-width="0.4"/>
<path d="M640.7 127.1L644.1 133.9L637.3 133.9Z" fill="#000" stroke="#000" stroke-width="0.4"/>
<path d="M645.9 132.2L649.3 139L642.5 139Z" fill="#000" stroke="#000" stroke-width="0.4"/>
<path d="M651.1 138.3L654.5 145.1L647.7 145.1Z" fill="#000" stroke="#000" stroke-width="0.4"/>
<path d="M656.3 146.7L659.7 153.5L652.9 153.5Z" fill="#000" stroke="#000" stroke-width="0.4"/>
<path d="M661.5 151.4L664.9 158.2L658.1 158.2Z" fill="#000" stroke="#000" stroke-width="0.4"/>
<path d="M666.7 156.5L670.1 163.3L663.3 163.3Z" fill="#000" stroke="#000" stroke-width="0.4"/>
<path d="M671.9 161.5L675.3 168.3L668.5 168.3Z" fill="#000" stroke="#000" stroke-width="0.4"/>
<path d="M677.1 166.7L680.5 173.5L673.7 173.5Z" fill="#000" stroke="#000" stroke-width="0.4"/>
<path d="M682.3 172.5L685.7 179.3L678.9 179.3Z" fill="#000" stroke="#000" stroke-width="0.4"/>
<circle cx="533.4" cy="27.6" r="4.1" fill="#ff0000" fill-opacity="0.8" stroke="#ff0000" stroke-opacity="0.8" stroke-width="0.8"/>
<circle cx="538.7" cy="42.7" r="4.1" fill="#ff0000" fill-opacity="0.8" stroke="#ff0000" stroke-opacity="0.8" stroke-width="0.8"/>
<circle cx="547.9" cy="41.9" r="4.1" fill="#ff0000" fill-opacity="0.8" stroke="#ff0000" stroke-opacity="0.8" stroke-width="0.8"/>
<circle cx="552.5" cy="49.2" r="4.1" fill="#ff0000" fill-opacity="0.8" stroke="#ff0000" stroke-opacity="0.8" stroke-width="0.8"/>
<circle cx="557.2" cy="44.7" r="4.1" fill="#ff0000" fill-opacity="0.8" stroke="#ff0000" stroke-opacity="0.8" stroke-width="0.8"/>
<circle cx="561.8" cy="55.1" r="4.1" fill="#ff0000" fill-opacity="0.8" stroke="#ff0000" stroke-opacity="0.8" stroke-width="0.8"/>
<circle cx="567.1" cy="52.6" r="4.1" fill="#ff0000" fill-opacity="0.8" stroke="#ff0000" stroke-opacity="0.8" stroke-width="0.8"/>
<circle cx="572.2" cy="59.7" r="4.1" fill="#ff0000" fill-opacity="0.8" stroke="#ff0000" stroke-opacity="0.8" stroke-width="0.8"/>
<circle cx="577.2" cy="62.2" r="4.1" fill="#ff0000" fill-opacity="0.8" stroke="#ff0000" stroke-opacity="0.8" stroke-width="0.8"/>
<circle cx="583.1" cy="65.6" r="4.1" fill="#ff0000" fill-opacity="0.8" stroke="#ff0000" stroke-opacity="0.8" stroke-width="0.8"/>
<circle cx="587.6" cy="72.5" r="4.1" fill="#ff0000" fill-opacity="0.8" stroke="#ff0000" stroke-opacity="0.8" stroke-width="0.8"/>
<circle cx="592.9" cy="76.8" r="4.1" fill="#ff0000" fill-opacity="0.8" stroke="#ff0000" stroke-opacity="0.8" stroke-width="0.8"/>
<circle cx="597.3" cy="81.7" r="4.1" fill="#ff0000" fill-opacity="0.8" stroke="#ff0000" stroke-opacity="0.8" stroke-width="0.8"/>
<circle cx="602.9" cy="84.5" r="4.1" fill="#ff0000" fill-opacity="0.8" stroke="#ff0000" stroke-opacity="0.8" stroke-width="0.8"/>
<circle cx="609.5" cy="90.2" r="4.1" fill="#ff0000" fill-opacity="0.8" stroke="#ff0000" stroke-opacity="0.8" stroke-width="0.8"/>
<circle cx="615.9" cy="95" r="4.1" fill="#ff0000" fill-opacity="0.8" stroke="#ff0000" stroke-opacity="0.8" stroke-width="0.8"/>
<circle cx="621" cy="99.2" r="4.1" fill="#ff0000" fill-opacity="0.8" stroke="#ff0000" stroke-opacity="0.8" stroke-width="0.8"/>
<circle cx="625.8" cy="103.9" r="4.1" fill="#ff0000" fill-opacity="0.8" stroke="#ff0000" stroke-opacity="0.8" stroke-width="0.8"/>
<circle cx="630.9" cy="107.5" r="4.1" fill="#ff0000" fill-opacity="0.8" stroke="#ff0000" stroke-opacity="0.8" stroke-width="0.8"/>
<circle cx="635.5" cy="112.9" r="4.1" fill="#ff0000" fill-opacity="0.8" stroke="#ff0000" stroke-opacity="0.8" stroke-width="0.8"/>
<circle cx="640.2" cy="118.6" r="4.1" fill="#ff0000" fill-opacity="0.8" stroke="#ff0000" stroke-opacity="0.8" stroke-width="0.8"/>
<circle cx="644.9" cy="126.1" r="4.1" fill="#ff0000" fill-opacity="0.8" stroke="#ff0000" stroke-opacity="0.8" stroke-width="0.8"/>
<circle cx="650.8" cy="135" r="4.1" fill="#ff0000" fill-opacity="0.8" stroke="#ff0000" stroke-opacity="0.8" stroke-width="0.8"/>
<circle cx="654.8" cy="149.5" r="4.1" fill="#ff0000" fill-opacity="0.8" stroke="#ff0000" stroke-opacity="0.8" stroke-width="0.8"/>
<circle cx="659" cy="159.9" r="4.1" fill="#ff0000" fill-opacity="0.8" stroke="#ff0000" stroke-opacity="0.8" stroke-width="0.8"/>
<circle cx="664.3" cy="193.2" r="4.1" fill="#ff0000" fill-opacity="0.8" stroke="#ff0000" stroke-opacity="0.8" stroke-width="0.8"/>
<circle cx="669.4" cy="214.5" r="4.1" fill="#ff0000" fill-opacity="0.8" stroke="#ff0000" stroke-opacity="0.8" stroke-width="0.8"/>
<rect x="607.5" y="7.5" width="94" height="33" fill="white" stroke="#333" stroke-width="0.9"/>
<circle cx="614.2" cy="17.9" r="4.1" fill="#ff0000" fill-opacity="0.8" stroke="#ff0000" stroke-opacity="0.8" stroke-width="0.8"/>
<circle cx="621.1" cy="17" r="4.1" fill="#ff0000" fill-opacity="0.8" stroke="#ff0000" stroke-opacity="0.8" stroke-width="0.8"/>
<circle cx="627.9" cy="18.3" r="4.1" fill="#ff0000" fill-opacity="0.8" stroke="#ff0000" stroke-opacity="0.8" stroke-width="0.8"/>
<path d="M614 28.6L617.4 35.4L610.6 35.4Z" fill="#000" stroke="#000" stroke-width="0.4"/>
<path d="M621 27.7L624.4 34.5L617.6 34.5Z" fill="#000" stroke="#000" stroke-width="0.4"/>
<path d="M628 29L631.4 35.8L624.6 35.8Z" fill="#000" stroke="#000" stroke-width="0.4"/>
<text x="639" y="20.6" font-family='"Liberation Sans", sans-serif' font-size="10.6" letter-spacing="0.3" fill="#111">lookbook</text>
<text x="639" y="34.9" font-family='"Liberation Sans", sans-serif' font-size="10.6" letter-spacing="0.3" fill="#111">simulation</text>
<rect x="404.5" y="1.5" width="303" height="235" fill="none" stroke="#222" stroke-width="0.95"/>
<text x="432.6" y="246" font-family='"Liberation Sans", sans-serif' font-size="9" fill="#111" stroke="#111" stroke-width="0.1" text-anchor="middle">10<tspan dy="-3.6" font-size="6">-2</tspan></text>
<text x="501.5" y="246" font-family='"Liberation Sans", sans-serif' font-size="9" fill="#111" stroke="#111" stroke-width="0.1" text-anchor="middle">10<tspan dy="-3.6" font-size="6">-1</tspan></text>
<text x="570.4" y="246" font-family='"Liberation Sans", sans-serif' font-size="9" fill="#111" stroke="#111" stroke-width="0.1" text-anchor="middle">10<tspan dy="-3.6" font-size="6">0</tspan></text>
<text x="639.3" y="246" font-family='"Liberation Sans", sans-serif' font-size="9" fill="#111" stroke="#111" stroke-width="0.1" text-anchor="middle">10<tspan dy="-3.6" font-size="6">1</tspan></text>
<text x="708.2" y="246" font-family='"Liberation Sans", sans-serif' font-size="9" fill="#111" stroke="#111" stroke-width="0.1" text-anchor="middle">10<tspan dy="-3.6" font-size="6">2</tspan></text>
<text x="400" y="216.8" font-family='"Liberation Sans", sans-serif' font-size="9" fill="#111" stroke="#111" stroke-width="0.1" text-anchor="end">10<tspan dy="-3.6" font-size="6">-6</tspan></text>
<text x="400" y="178.5" font-family='"Liberation Sans", sans-serif' font-size="9" fill="#111" stroke="#111" stroke-width="0.1" text-anchor="end">10<tspan dy="-3.6" font-size="6">-5</tspan></text>
<text x="400" y="140.2" font-family='"Liberation Sans", sans-serif' font-size="9" fill="#111" stroke="#111" stroke-width="0.1" text-anchor="end">10<tspan dy="-3.6" font-size="6">-4</tspan></text>
<text x="400" y="101.9" font-family='"Liberation Sans", sans-serif' font-size="9" fill="#111" stroke="#111" stroke-width="0.1" text-anchor="end">10<tspan dy="-3.6" font-size="6">-3</tspan></text>
<text x="400" y="63.6" font-family='"Liberation Sans", sans-serif' font-size="9" fill="#111" stroke="#111" stroke-width="0.1" text-anchor="end">10<tspan dy="-3.6" font-size="6">-2</tspan></text>
<text x="400" y="25.3" font-family='"Liberation Sans", sans-serif' font-size="9" fill="#111" stroke="#111" stroke-width="0.1" text-anchor="end">10<tspan dy="-3.6" font-size="6">-1</tspan></text>
<rect x="439.5" y="102.6" width="142.5" height="109.8" fill="white" stroke="none"/>
<path d="M442.34 212.4V211.3M442.34 102.6V103.7M444.9 212.4V210.2M444.9 102.6V104.8M461.76 212.4V211.3M461.76 102.6V103.7M471.62 212.4V211.3M471.62 102.6V103.7M478.62 212.4V211.3M478.62 102.6V103.7M484.04 212.4V211.3M484.04 102.6V103.7M488.48 212.4V211.3M488.48 102.6V103.7M492.23 212.4V211.3M492.23 102.6V103.7M495.47 212.4V211.3M495.47 102.6V103.7M498.34 212.4V211.3M498.34 102.6V103.7M500.9 212.4V210.2M500.9 102.6V104.8M517.76 212.4V211.3M517.76 102.6V103.7M527.62 212.4V211.3M527.62 102.6V103.7M534.62 212.4V211.3M534.62 102.6V103.7M540.04 212.4V211.3M540.04 102.6V103.7M544.48 212.4V211.3M544.48 102.6V103.7M548.23 212.4V211.3M548.23 102.6V103.7M551.47 212.4V211.3M551.47 102.6V103.7M554.34 212.4V211.3M554.34 102.6V103.7M556.9 212.4V210.2M556.9 102.6V104.8M573.76 212.4V211.3M573.76 102.6V103.7M439.5 201.46H440.6M582 201.46H580.9M439.5 194.42H440.6M582 194.42H580.9M439.5 189.42H440.6M582 189.42H580.9M439.5 185.54H440.6M582 185.54H580.9M439.5 182.37H440.6M582 182.37H580.9M439.5 179.7H440.6M582 179.7H580.9M439.5 177.38H440.6M582 177.38H580.9M439.5 175.33H440.6M582 175.33H580.9M439.5 173.5H441.7M582 173.5H579.8M439.5 161.46H440.6M582 161.46H580.9M439.5 154.42H440.6M582 154.42H580.9M439.5 149.42H440.6M582 149.42H580.9M439.5 145.54H440.6M582 145.54H580.9M439.5 142.37H440.6M582 142.37H580.9M439.5 139.7H440.6M582 139.7H580.9M439.5 137.38H440.6M582 137.38H580.9M439.5 135.33H440.6M582 135.33H580.9M439.5 133.5H441.7M582 133.5H579.8M439.5 121.46H440.6M582 121.46H580.9M439.5 114.42H440.6M582 114.42H580.9M439.5 109.42H440.6M582 109.42H580.9M439.5 105.54H440.6M582 105.54H580.9" stroke="#000" stroke-width="0.6" fill="none"/>
<path d="M474.5 105.1L578.4 183.5" stroke="#111" stroke-width="0.9" fill="none"/>
<circle cx="443.6" cy="108.5" r="2.1" fill="#2020c0" fill-opacity="0.8" stroke="#000050" stroke-opacity="0.8" stroke-width="0.7"/>
<circle cx="469.1" cy="126.3" r="2.1" fill="#2020c0" fill-opacity="0.8" stroke="#000050" stroke-opacity="0.8" stroke-width="0.7"/>
<circle cx="481" cy="134.5" r="2.1" fill="#2020c0" fill-opacity="0.8" stroke="#000050" stroke-opacity="0.8" stroke-width="0.7"/>
<circle cx="494.7" cy="144" r="2.1" fill="#2020c0" fill-opacity="0.8" stroke="#000050" stroke-opacity="0.8" stroke-width="0.7"/>
<circle cx="497.5" cy="145.5" r="2.1" fill="#2020c0" fill-opacity="0.8" stroke="#000050" stroke-opacity="0.8" stroke-width="0.7"/>
<circle cx="507" cy="151.9" r="2.1" fill="#2020c0" fill-opacity="0.8" stroke="#000050" stroke-opacity="0.8" stroke-width="0.7"/>
<circle cx="508.9" cy="153.8" r="2.1" fill="#2020c0" fill-opacity="0.8" stroke="#000050" stroke-opacity="0.8" stroke-width="0.7"/>
<circle cx="514" cy="156.8" r="2.1" fill="#2020c0" fill-opacity="0.8" stroke="#000050" stroke-opacity="0.8" stroke-width="0.7"/>
<circle cx="525.8" cy="153.3" r="2.1" fill="#2020c0" fill-opacity="0.8" stroke="#000050" stroke-opacity="0.8" stroke-width="0.7"/>
<circle cx="523.2" cy="162.9" r="2.1" fill="#2020c0" fill-opacity="0.8" stroke="#000050" stroke-opacity="0.8" stroke-width="0.7"/>
<circle cx="535" cy="171.3" r="2.1" fill="#2020c0" fill-opacity="0.8" stroke="#000050" stroke-opacity="0.8" stroke-width="0.7"/>
<circle cx="556.2" cy="185.7" r="2.1" fill="#2020c0" fill-opacity="0.8" stroke="#000050" stroke-opacity="0.8" stroke-width="0.7"/>
<path d="M443.6 115.3L445.3 118.7L441.9 118.7Z" fill="#000" stroke="#000" stroke-width="0.4"/>
<path d="M513 162.3L514.7 165.7L511.3 165.7Z" fill="#000" stroke="#000" stroke-width="0.4"/>
<path d="M460.1 126.8L461.8 130.2L458.4 130.2Z" fill="#000" stroke="#000" stroke-width="0.4"/>
<path d="M468.2 132.8L469.9 136.2L466.5 136.2Z" fill="#000" stroke="#000" stroke-width="0.4"/>
<path d="M482.1 130.2L483.8 133.6L480.4 133.6Z" fill="#000" stroke="#000" stroke-width="0.4"/>
<path d="M496 151.3L497.7 154.7L494.3 154.7Z" fill="#000" stroke="#000" stroke-width="0.4"/>
<path d="M498.9 152.8L500.6 156.2L497.2 156.2Z" fill="#000" stroke="#000" stroke-width="0.4"/>
<path d="M501.7 154.7L503.4 158.1L500 158.1Z" fill="#000" stroke="#000" stroke-width="0.4"/>
<path d="M507.4 147.4L509.1 150.8L505.7 150.8Z" fill="#000" stroke="#000" stroke-width="0.4"/>
<path d="M518.7 154.1L520.4 157.5L517 157.5Z" fill="#000" stroke="#000" stroke-width="0.4"/>
<path d="M510.2 149.6L511.9 153L508.5 153Z" fill="#000" stroke="#000" stroke-width="0.4"/>
<path d="M518.4 155.2L520.1 158.6L516.7 158.6Z" fill="#000" stroke="#000" stroke-width="0.4"/>
<path d="M523.8 152.1L525.5 155.5L522.1 155.5Z" fill="#000" stroke="#000" stroke-width="0.4"/>
<path d="M526.9 160.3L528.6 163.7L525.2 163.7Z" fill="#000" stroke="#000" stroke-width="0.4"/>
<path d="M521.5 168.8L523.2 172.2L519.8 172.2Z" fill="#000" stroke="#000" stroke-width="0.4"/>
<path d="M529.4 174.4L531.1 177.8L527.7 177.8Z" fill="#000" stroke="#000" stroke-width="0.4"/>
<path d="M532 175.9L533.7 179.3L530.3 179.3Z" fill="#000" stroke="#000" stroke-width="0.4"/>
<path d="M535 178.1L536.7 181.5L533.3 181.5Z" fill="#000" stroke="#000" stroke-width="0.4"/>
<path d="M538.4 168.8L540.1 172.2L536.7 172.2Z" fill="#000" stroke="#000" stroke-width="0.4"/>
<path d="M546.1 167.1L547.8 170.5L544.4 170.5Z" fill="#000" stroke="#000" stroke-width="0.4"/>
<path d="M557.4 174.7L559.1 178.1L555.7 178.1Z" fill="#000" stroke="#000" stroke-width="0.4"/>
<path d="M554.6 179.5L556.3 182.9L552.9 182.9Z" fill="#000" stroke="#000" stroke-width="0.4"/>
<path d="M576.5 188L578.2 191.4L574.8 191.4Z" fill="#000" stroke="#000" stroke-width="0.4"/>
<path d="M568.4 200.8L570.1 204.2L566.7 204.2Z" fill="#000" stroke="#000" stroke-width="0.4"/>
<path d="M571.1 203L572.8 206.4L569.4 206.4Z" fill="#000" stroke="#000" stroke-width="0.4"/>
<rect x="441.8" y="183.3" width="72.9" height="27" rx="0.4" fill="white" stroke="#444" stroke-width="0.8"/>
<circle cx="446.8" cy="192.4" r="2.8" fill="#1818c8" fill-opacity="0.8" stroke="#000060" stroke-opacity="0.8" stroke-width="0.6"/>
<circle cx="452.2" cy="192.1" r="2.8" fill="#1818c8" fill-opacity="0.8" stroke="#000060" stroke-opacity="0.8" stroke-width="0.6"/>
<circle cx="457.5" cy="192.9" r="2.8" fill="#1818c8" fill-opacity="0.8" stroke="#000060" stroke-opacity="0.8" stroke-width="0.6"/>
<path d="M447 201.2L449.6 206.4L444.4 206.4Z" fill="#000" stroke="#000" stroke-width="0.4"/>
<path d="M452.4 200.5L455 205.7L449.8 205.7Z" fill="#000" stroke="#000" stroke-width="0.4"/>
<path d="M457.8 201.5L460.4 206.7L455.2 206.7Z" fill="#000" stroke="#000" stroke-width="0.4"/>
<text x="466" y="194.8" font-family='"Liberation Sans", sans-serif' font-size="8.2" letter-spacing="0.2" fill="#111">lookbook</text>
<text x="466" y="205.8" font-family='"Liberation Sans", sans-serif' font-size="8.2" letter-spacing="0.2" fill="#111">simulation</text>
<rect x="439.5" y="102.6" width="142.5" height="109.8" fill="none" stroke="#000" stroke-width="1.2"/>
<text x="444.9" y="219.9" font-family='"Liberation Serif", serif' font-size="7.2" fill="#000" stroke="#000" stroke-width="0.1" text-anchor="middle">10<tspan dy="-2.8" font-size="4.8">0</tspan></text>
<text x="556.9" y="219.9" font-family='"Liberation Serif", serif' font-size="7.2" fill="#000" stroke="#000" stroke-width="0.1" text-anchor="middle">10<tspan dy="-2.8" font-size="4.8">2</tspan></text>
<text x="437.8" y="175.9" font-family='"Liberation Serif", serif' font-size="7.2" fill="#000" stroke="#000" stroke-width="0.1" text-anchor="end">10<tspan dy="-2.8" font-size="4.8">-2</tspan></text>
<text x="437.8" y="135.9" font-family='"Liberation Serif", serif' font-size="7.2" fill="#000" stroke="#000" stroke-width="0.1" text-anchor="end">10<tspan dy="-2.8" font-size="4.8">-1</tspan></text>
<g transform="translate(170.2,260.8)">
<text x="1.6" y="0" font-family='"Liberation Serif", serif' font-size="14.21" fill="#111" stroke="#111" stroke-width="0.2">Δ</text>
<text x="13.31" y="0" font-family='"Liberation Serif", serif' font-size="14.21" font-style="italic" fill="#111" stroke="#111" stroke-width="0.2">S</text>
<text x="23.13" y="0" font-family='"Liberation Serif", serif' font-size="14.21" fill="#111" stroke="#111" stroke-width="0.2">/</text>
<text x="29.79" y="0" font-family='"Liberation Serif", serif' font-size="14.21" font-style="italic" fill="#111" stroke="#111" stroke-width="0.2">S</text>
</g>
<g transform="translate(534.8,260.1)">
<text x="0.39" y="0" font-family='"Liberation Serif", serif' font-size="14" fill="#111" stroke="#111" stroke-width="0.2">(</text>
<text x="6.78" y="0" font-family='"Liberation Serif", serif' font-size="14" fill="#111" stroke="#111" stroke-width="0.2">Δ</text>
<text x="17.9" y="0" font-family='"Liberation Serif", serif' font-size="14" font-style="italic" fill="#111" stroke="#111" stroke-width="0.2">S</text>
<text x="27.24" y="0" font-family='"Liberation Serif", serif' font-size="14" fill="#111" stroke="#111" stroke-width="0.2">/</text>
<text x="33.48" y="0" font-family='"Liberation Serif", serif' font-size="14" font-style="italic" fill="#111" stroke="#111" stroke-width="0.2">S</text>
<text x="41.66" y="0" font-family='"Liberation Serif", serif' font-size="14" fill="#111" stroke="#111" stroke-width="0.2">)</text>
<text x="47.02" y="2.8" font-family='"Liberation Serif", serif' font-size="9.8" font-style="italic" fill="#111" stroke="#111" stroke-width="0.2">r</text>
</g>
<g transform="translate(11.4,147.4) rotate(-90)">
<text x="0.21" y="0" font-family='"Liberation Serif", serif' font-size="13.6" font-style="italic" fill="#222">P</text>
<text x="9.11" y="0" font-family='"Liberation Serif", serif' font-size="13.6" fill="#222">(</text>
<text x="15.31" y="0" font-family='"Liberation Serif", serif' font-size="13.6" fill="#222">Δ</text>
<text x="26.12" y="0" font-family='"Liberation Serif", serif' font-size="13.6" font-style="italic" fill="#222">S</text>
<text x="35.2" y="0" font-family='"Liberation Serif", serif' font-size="13.6" fill="#222">/</text>
<text x="41.26" y="0" font-family='"Liberation Serif", serif' font-size="13.6" font-style="italic" fill="#222">S</text>
<text x="49.2" y="0" font-family='"Liberation Serif", serif' font-size="13.6" fill="#222">)</text>
</g>
<g transform="translate(375.4,153.3) rotate(-90)">
<text x="0.3" y="0" font-family='"Liberation Serif", serif' font-size="13.82" font-style="italic" fill="#222">P</text>
<text x="9.49" y="0" font-family='"Liberation Serif", serif' font-size="13.82" fill="#222">(</text>
<text x="14.98" y="0" font-family='"Liberation Serif", serif' font-size="13.82" fill="#222">(</text>
<text x="21.45" y="0" font-family='"Liberation Serif", serif' font-size="13.82" fill="#222">Δ</text>
<text x="32.63" y="0" font-family='"Liberation Serif", serif' font-size="13.82" font-style="italic" fill="#222">S</text>
<text x="42.01" y="0" font-family='"Liberation Serif", serif' font-size="13.82" fill="#222">/</text>
<text x="48.33" y="0" font-family='"Liberation Serif", serif' font-size="13.82" font-style="italic" fill="#222">S</text>
<text x="56.55" y="0" font-family='"Liberation Serif", serif' font-size="13.82" fill="#222">)</text>
<text x="61.93" y="2.82" font-family='"Liberation Serif", serif' font-size="9.67" font-style="italic" fill="#222">r</text>
<text x="66.48" y="0" font-family='"Liberation Serif", serif' font-size="13.82" fill="#222">)</text>
</g>
<g transform="translate(425,169) rotate(-90)">
<text x="-0.14" y="0" font-family='"Liberation Serif", serif' font-size="9.9" font-style="italic" fill="#111" stroke="#111" stroke-width="0.1">P</text>
<text x="5.88" y="0" font-family='"Liberation Serif", serif' font-size="9.9" fill="#111" stroke="#111" stroke-width="0.1">(</text>
<text x="9.84" y="0" font-family='"Liberation Serif", serif' font-size="9.9" fill="#111" stroke="#111" stroke-width="0.1">Δ</text>
<text x="17.02" y="0" font-family='"Liberation Serif", serif' font-size="9.9" font-style="italic" fill="#111" stroke="#111" stroke-width="0.1">t</text>
<text x="20.13" y="0" font-family='"Liberation Serif", serif' font-size="9.9" fill="#111" stroke="#111" stroke-width="0.1">)</text>
</g>
<g transform="translate(504,226.6)">
<text x="0.94" y="0" font-family='"Liberation Serif", serif' font-size="9.9" fill="#111" stroke="#111" stroke-width="0.1">Δ</text>
<text x="8.66" y="0" font-family='"Liberation Serif", serif' font-size="9.9" font-style="italic" fill="#111" stroke="#111" stroke-width="0.1">t</text>
</g>
<text transform="translate(4.6,261.6) scale(0.89,1)" font-family='"Liberation Sans", sans-serif' font-size="20.4" font-weight="bold" fill="#000" stroke="#000" stroke-width="0.35">a</text>
<text x="368.6" y="261.7" font-family='"Liberation Sans", sans-serif' font-size="20.6" font-weight="bold" fill="#000">b</text>
</svg>
</body></html>
